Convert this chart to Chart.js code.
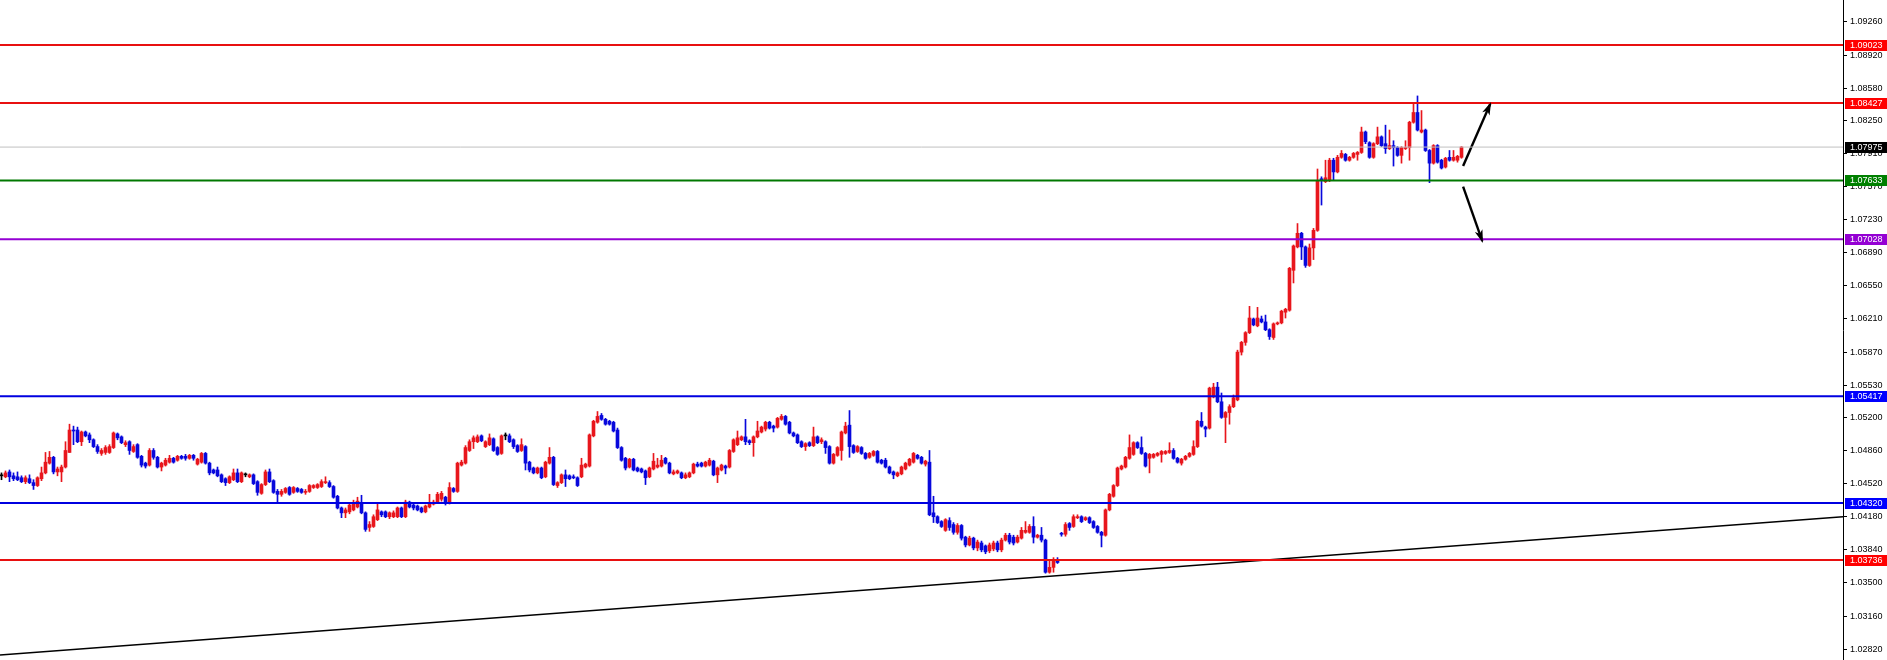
<!DOCTYPE html>
<html><head><meta charset="utf-8">
<script src="https://cdn.jsdelivr.net/npm/chart.js@4/dist/chart.umd.min.js"></script>
<style>html,body{margin:0;padding:0;background:#fff;overflow:hidden}#wrap{width:1887px;height:660px;position:relative}</style>
</head><body><div id="wrap"><canvas id="c"></canvas></div>
<script>
const OPEN=[
1.0460,1.0459,1.0464,1.0460,1.0459,1.0458,1.0454,1.0457,1.0453,1.0450,
1.0457,1.0463,1.0473,1.0479,1.0464,1.0464,1.0469,1.0484,1.0507,1.0507,
1.0495,1.0505,1.0502,1.0497,1.0490,1.0483,1.0484,1.0484,1.0489,1.0503,
1.0500,1.0492,1.0495,1.0485,1.0492,1.0480,1.0473,1.0471,1.0486,1.0479,
1.0469,1.0471,1.0474,1.0478,1.0476,1.0480,1.0480,1.0478,1.0481,1.0472,
1.0474,1.0483,1.0473,1.0466,1.0466,1.0461,1.0457,1.0453,1.0456,1.0463,
1.0454,1.0461,1.0459,1.0461,1.0454,1.0442,1.0451,1.0464,1.0455,1.0444,
1.0441,1.0443,1.0448,1.0443,1.0447,1.0446,1.0443,1.0444,1.0448,1.0448,
1.0449,1.0453,1.0453,1.0449,1.0439,1.0427,1.0422,1.0423,1.0425,1.0428,
1.0431,1.0422,1.0407,1.0408,1.0415,1.0423,1.0423,1.0418,1.0418,1.0418,
1.0427,1.0418,1.0433,1.0430,1.0429,1.0427,1.0423,1.0428,1.0431,1.0433,
1.0436,1.0438,1.0432,1.0447,1.0444,1.0471,1.0473,1.0486,1.0495,1.0495,
1.0501,1.0490,1.0492,1.0498,1.0489,1.0483,1.0501,1.0501,1.0497,1.0491,
1.0486,1.0490,1.0474,1.0468,1.0463,1.0468,1.0459,1.0473,1.0479,1.0450,
1.0453,1.0461,1.0460,1.0459,1.0458,1.0459,1.0469,1.0470,1.0501,1.0515,
1.0522,1.0518,1.0516,1.0515,1.0507,1.0489,1.0478,1.0469,1.0477,1.0468,
1.0467,1.0465,1.0459,1.0467,1.0469,1.0470,1.0478,1.0473,1.0462,1.0463,
1.0463,1.0458,1.0459,1.0463,1.0472,1.0473,1.0470,1.0471,1.0475,1.0461,
1.0466,1.0470,1.0469,1.0485,1.0492,1.0497,1.0500,1.0496,1.0494,1.0500,
1.0505,1.0508,1.0515,1.0511,1.0510,1.0518,1.0521,1.0515,1.0504,1.0502,
1.0495,1.0490,1.0494,1.0491,1.0500,1.0495,1.0495,1.0490,1.0473,1.0481,
1.0486,1.0504,1.0512,1.0491,1.0485,1.0489,1.0483,1.0479,1.0481,1.0485,
1.0476,1.0476,1.0469,1.0464,1.0460,1.0462,1.0467,1.0471,1.0474,1.0481,
1.0479,1.0472,1.0474,1.0422,1.0418,1.0413,1.0404,1.0414,1.0410,1.0402,
1.0409,1.0397,1.0389,1.0396,1.0386,1.0391,1.0388,1.0383,1.0385,1.0391,
1.0384,1.0394,1.0399,1.0397,1.0392,1.0396,1.0402,1.0402,1.0408,1.0397,
1.0399,1.0394,1.0361,1.0366,1.0374,1.0401,1.0400,1.0411,1.0408,1.0417,
1.0418,1.0415,1.0417,1.0413,1.0408,1.0402,1.0399,1.0425,1.0439,1.0450,
1.0467,1.0469,1.0478,1.0482,1.0494,1.0489,1.0483,1.0478,1.0479,1.0481,
1.0482,1.0483,1.0484,1.0486,1.0478,1.0473,1.0477,1.0480,1.0482,1.0490,
1.0516,1.0510,1.0509,1.0541,1.0551,1.0536,1.0520,1.0525,1.0531,1.0538,
1.0587,1.0597,1.0607,1.0621,1.0614,1.0621,1.0618,1.0610,1.0602,1.0616,
1.0617,1.0628,1.0630,1.0671,1.0695,1.0709,1.0695,1.0676,1.0694,1.0712,
1.0765,1.0762,1.0763,1.0784,1.0772,1.0787,1.0790,1.0784,1.0787,1.0790,
1.0792,1.0813,1.0802,1.0787,1.0801,1.0808,1.0801,1.0796,1.0799,1.0797,
1.0789,1.0796,1.0797,1.0823,1.0833,1.0813,1.0815,1.0794,1.0781,1.0799,
1.0784,1.0777,1.0787,1.0784,1.0784,1.0787];
const HIGH=[
1.0463,1.0465,1.0466,1.0463,1.0464,1.0460,1.0460,1.0461,1.0456,1.0459,
1.0469,1.0484,1.0485,1.0480,1.0469,1.0471,1.0495,1.0513,1.0511,1.0510,
1.0506,1.0506,1.0504,1.0498,1.0492,1.0488,1.0491,1.0492,1.0505,1.0504,
1.0501,1.0496,1.0496,1.0492,1.0493,1.0481,1.0474,1.0488,1.0488,1.0480,
1.0474,1.0478,1.0481,1.0479,1.0481,1.0481,1.0482,1.0482,1.0482,1.0478,
1.0484,1.0484,1.0474,1.0467,1.0469,1.0462,1.0458,1.0460,1.0467,1.0467,
1.0464,1.0463,1.0462,1.0462,1.0455,1.0452,1.0466,1.0467,1.0456,1.0446,
1.0446,1.0448,1.0449,1.0449,1.0448,1.0447,1.0446,1.0451,1.0451,1.0452,
1.0456,1.0459,1.0455,1.0450,1.0440,1.0428,1.0427,1.0431,1.0435,1.0438,
1.0440,1.0423,1.0413,1.0420,1.0431,1.0424,1.0424,1.0423,1.0424,1.0428,
1.0428,1.0435,1.0434,1.0431,1.0430,1.0428,1.0430,1.0441,1.0435,1.0443,
1.0444,1.0439,1.0453,1.0448,1.0474,1.0476,1.0491,1.0497,1.0501,1.0502,
1.0502,1.0496,1.0503,1.0499,1.0490,1.0502,1.0504,1.0503,1.0498,1.0492,
1.0498,1.0491,1.0475,1.0469,1.0469,1.0469,1.0475,1.0489,1.0480,1.0454,
1.0462,1.0466,1.0461,1.0461,1.0459,1.0478,1.0473,1.0503,1.0517,1.0526,
1.0524,1.0519,1.0517,1.0516,1.0509,1.0490,1.0479,1.0478,1.0478,1.0469,
1.0468,1.0466,1.0469,1.0483,1.0478,1.0481,1.0479,1.0474,1.0466,1.0466,
1.0464,1.0463,1.0464,1.0473,1.0474,1.0474,1.0475,1.0478,1.0476,1.0469,
1.0472,1.0471,1.0487,1.0498,1.0506,1.0501,1.0518,1.0497,1.0501,1.0516,
1.0511,1.0516,1.0516,1.0512,1.0520,1.0523,1.0522,1.0516,1.0505,1.0503,
1.0496,1.0494,1.0495,1.0510,1.0501,1.0499,1.0496,1.0491,1.0483,1.0490,
1.0506,1.0515,1.0527,1.0492,1.0491,1.0490,1.0484,1.0484,1.0486,1.0486,
1.0477,1.0478,1.0470,1.0465,1.0464,1.0470,1.0474,1.0478,1.0484,1.0482,
1.0480,1.0476,1.0486,1.0439,1.0419,1.0414,1.0416,1.0417,1.0412,1.0411,
1.0410,1.0398,1.0398,1.0397,1.0394,1.0393,1.0389,1.0391,1.0393,1.0393,
1.0396,1.0401,1.0401,1.0399,1.0399,1.0407,1.0413,1.0410,1.0418,1.0400,
1.0407,1.0395,1.0374,1.0376,1.0376,1.0402,1.0412,1.0412,1.0420,1.0420,
1.0419,1.0418,1.0418,1.0414,1.0409,1.0403,1.0426,1.0442,1.0451,1.0469,
1.0471,1.0480,1.0502,1.0495,1.0495,1.0500,1.0484,1.0483,1.0483,1.0484,
1.0486,1.0486,1.0494,1.0488,1.0479,1.0478,1.0481,1.0484,1.0496,1.0517,
1.0525,1.0511,1.0551,1.0555,1.0556,1.0545,1.0526,1.0533,1.0543,1.0589,
1.0598,1.0608,1.0634,1.0622,1.0633,1.0624,1.0625,1.0611,1.0617,1.0618,
1.0630,1.0632,1.0674,1.0697,1.0719,1.0710,1.0696,1.0698,1.0714,1.0775,
1.0767,1.0784,1.0786,1.0786,1.0789,1.0794,1.0791,1.0788,1.0792,1.0793,
1.0818,1.0814,1.0803,1.0802,1.0818,1.0809,1.0820,1.0815,1.0804,1.0798,
1.0798,1.0804,1.0824,1.0842,1.0850,1.0835,1.0816,1.0795,1.0800,1.0800,
1.0785,1.0787,1.0794,1.0794,1.0789,1.0798];
const LOW=[
1.0456,1.0458,1.0454,1.0455,1.0455,1.0453,1.0452,1.0452,1.0446,1.0449,
1.0455,1.0462,1.0472,1.0462,1.0460,1.0454,1.0468,1.0484,1.0492,1.0494,
1.0491,1.0500,1.0494,1.0489,1.0483,1.0481,1.0482,1.0483,1.0488,1.0497,
1.0493,1.0490,1.0482,1.0484,1.0478,1.0469,1.0468,1.0470,1.0477,1.0468,
1.0465,1.0470,1.0473,1.0473,1.0475,1.0477,1.0476,1.0477,1.0476,1.0471,
1.0473,1.0472,1.0461,1.0462,1.0459,1.0453,1.0450,1.0452,1.0455,1.0453,
1.0453,1.0459,1.0458,1.0451,1.0440,1.0441,1.0450,1.0453,1.0442,1.0432,
1.0439,1.0442,1.0440,1.0442,1.0443,1.0442,1.0441,1.0443,1.0447,1.0447,
1.0448,1.0452,1.0448,1.0437,1.0426,1.0417,1.0417,1.0421,1.0424,1.0427,
1.0421,1.0403,1.0403,1.0407,1.0414,1.0418,1.0417,1.0416,1.0417,1.0417,
1.0417,1.0417,1.0427,1.0425,1.0424,1.0422,1.0422,1.0427,1.0430,1.0432,
1.0434,1.0430,1.0431,1.0443,1.0443,1.0470,1.0472,1.0485,1.0488,1.0494,
1.0495,1.0489,1.0491,1.0485,1.0481,1.0482,1.0497,1.0494,1.0488,1.0484,
1.0485,1.0466,1.0464,1.0462,1.0462,1.0457,1.0458,1.0472,1.0450,1.0448,
1.0452,1.0449,1.0456,1.0457,1.0449,1.0458,1.0468,1.0469,1.0500,1.0514,
1.0517,1.0512,1.0512,1.0505,1.0488,1.0475,1.0466,1.0468,1.0465,1.0464,
1.0463,1.0451,1.0458,1.0466,1.0468,1.0469,1.0472,1.0462,1.0461,1.0462,
1.0457,1.0457,1.0458,1.0462,1.0469,1.0469,1.0469,1.0470,1.0460,1.0453,
1.0465,1.0462,1.0468,1.0484,1.0491,1.0496,1.0492,1.0492,1.0480,1.0499,
1.0504,1.0506,1.0508,1.0505,1.0509,1.0517,1.0512,1.0503,1.0500,1.0493,
1.0489,1.0486,1.0490,1.0490,1.0493,1.0493,1.0483,1.0472,1.0472,1.0480,
1.0476,1.0503,1.0479,1.0483,1.0484,1.0482,1.0477,1.0478,1.0480,1.0473,
1.0472,1.0468,1.0462,1.0457,1.0459,1.0461,1.0466,1.0470,1.0473,1.0477,
1.0472,1.0470,1.0419,1.0412,1.0411,1.0407,1.0403,1.0404,1.0400,1.0400,
1.0394,1.0387,1.0388,1.0384,1.0383,1.0382,1.0380,1.0381,1.0383,1.0382,
1.0382,1.0393,1.0390,1.0389,1.0391,1.0395,1.0401,1.0401,1.0391,1.0396,
1.0392,1.0360,1.0360,1.0361,1.0370,1.0398,1.0398,1.0404,1.0407,1.0416,
1.0412,1.0414,1.0411,1.0406,1.0401,1.0387,1.0398,1.0424,1.0438,1.0449,
1.0466,1.0468,1.0477,1.0481,1.0488,1.0482,1.0469,1.0463,1.0478,1.0480,
1.0474,1.0482,1.0483,1.0477,1.0473,1.0471,1.0476,1.0479,1.0481,1.0489,
1.0510,1.0500,1.0508,1.0540,1.0535,1.0519,1.0494,1.0513,1.0530,1.0537,
1.0584,1.0594,1.0606,1.0614,1.0613,1.0617,1.0609,1.0600,1.0600,1.0615,
1.0616,1.0622,1.0629,1.0658,1.0694,1.0682,1.0674,1.0675,1.0682,1.0711,
1.0738,1.0761,1.0762,1.0764,1.0771,1.0786,1.0783,1.0783,1.0786,1.0784,
1.0791,1.0801,1.0786,1.0786,1.0800,1.0798,1.0791,1.0795,1.0778,1.0788,
1.0781,1.0795,1.0784,1.0822,1.0814,1.0812,1.0793,1.0761,1.0780,1.0781,
1.0775,1.0776,1.0783,1.0783,1.0782,1.0786];
const CLOSE=[
1.0460,1.0463,1.0459,1.0457,1.0456,1.0454,1.0458,1.0453,1.0450,1.0458,
1.0463,1.0474,1.0479,1.0464,1.0467,1.0469,1.0486,1.0507,1.0506,1.0495,
1.0505,1.0501,1.0497,1.0490,1.0485,1.0486,1.0489,1.0490,1.0504,1.0499,
1.0494,1.0494,1.0486,1.0490,1.0479,1.0471,1.0470,1.0486,1.0479,1.0469,
1.0473,1.0476,1.0478,1.0474,1.0480,1.0478,1.0478,1.0481,1.0478,1.0477,
1.0483,1.0473,1.0463,1.0463,1.0460,1.0454,1.0453,1.0459,1.0463,1.0454,
1.0463,1.0461,1.0461,1.0452,1.0443,1.0451,1.0464,1.0454,1.0443,1.0441,
1.0444,1.0447,1.0441,1.0448,1.0444,1.0443,1.0444,1.0450,1.0450,1.0451,
1.0454,1.0454,1.0449,1.0438,1.0427,1.0422,1.0425,1.0430,1.0432,1.0434,
1.0422,1.0405,1.0410,1.0418,1.0425,1.0420,1.0418,1.0422,1.0422,1.0427,
1.0418,1.0433,1.0428,1.0427,1.0425,1.0423,1.0429,1.0432,1.0433,1.0441,
1.0442,1.0432,1.0448,1.0444,1.0473,1.0474,1.0489,1.0495,1.0499,1.0500,
1.0496,1.0495,1.0499,1.0486,1.0482,1.0501,1.0501,1.0495,1.0490,1.0485,
1.0492,1.0473,1.0466,1.0463,1.0468,1.0458,1.0474,1.0479,1.0451,1.0453,
1.0461,1.0457,1.0457,1.0458,1.0450,1.0471,1.0472,1.0502,1.0516,1.0521,
1.0518,1.0513,1.0513,1.0506,1.0489,1.0476,1.0468,1.0477,1.0466,1.0465,
1.0464,1.0458,1.0468,1.0475,1.0471,1.0476,1.0473,1.0463,1.0464,1.0465,
1.0458,1.0461,1.0463,1.0472,1.0470,1.0470,1.0474,1.0476,1.0461,1.0468,
1.0471,1.0468,1.0486,1.0497,1.0499,1.0500,1.0495,1.0494,1.0500,1.0506,
1.0510,1.0515,1.0509,1.0509,1.0519,1.0521,1.0513,1.0504,1.0501,1.0494,
1.0490,1.0493,1.0491,1.0500,1.0494,1.0497,1.0489,1.0473,1.0482,1.0489,
1.0505,1.0511,1.0490,1.0484,1.0490,1.0483,1.0478,1.0483,1.0485,1.0474,
1.0473,1.0469,1.0463,1.0461,1.0463,1.0469,1.0473,1.0477,1.0483,1.0478,
1.0473,1.0475,1.0420,1.0418,1.0412,1.0408,1.0415,1.0407,1.0402,1.0409,
1.0396,1.0389,1.0396,1.0386,1.0392,1.0384,1.0382,1.0389,1.0391,1.0384,
1.0394,1.0399,1.0392,1.0391,1.0397,1.0404,1.0404,1.0408,1.0397,1.0399,
1.0394,1.0361,1.0366,1.0374,1.0371,1.0400,1.0410,1.0407,1.0418,1.0418,
1.0413,1.0417,1.0412,1.0407,1.0402,1.0399,1.0425,1.0441,1.0450,1.0468,
1.0470,1.0479,1.0489,1.0494,1.0489,1.0483,1.0470,1.0482,1.0482,1.0483,
1.0485,1.0485,1.0486,1.0478,1.0474,1.0477,1.0480,1.0483,1.0490,1.0516,
1.0511,1.0508,1.0550,1.0551,1.0536,1.0520,1.0525,1.0531,1.0540,1.0587,
1.0597,1.0607,1.0622,1.0615,1.0622,1.0618,1.0610,1.0603,1.0616,1.0617,
1.0629,1.0631,1.0673,1.0696,1.0709,1.0695,1.0676,1.0694,1.0712,1.0763,
1.0763,1.0766,1.0784,1.0772,1.0787,1.0791,1.0784,1.0787,1.0791,1.0792,
1.0813,1.0803,1.0787,1.0801,1.0808,1.0799,1.0796,1.0799,1.0797,1.0789,
1.0797,1.0797,1.0823,1.0833,1.0815,1.0815,1.0794,1.0781,1.0799,1.0782,
1.0776,1.0786,1.0784,1.0787,1.0788,1.07975];

const TICKS=[1.09260,1.08920,1.08580,1.08250,1.07910,1.07570,1.07230,1.06890,1.06550,1.06210,
1.05870,1.05530,1.05200,1.04860,1.04520,1.04180,1.03840,1.03500,1.03160,1.02820];
const LEVELS=[1.09023,1.08427,1.07975,1.07633,1.07028,1.05417,1.04320,1.03736];
const TREND=[{x:-0.375,y:1.0276},{x:460.375,y:1.0418}];
const ARROW_UP=[{x:365.4,y:1.0778},{x:372.2,y:1.0842}];
const ARROW_DOWN=[{x:365.4,y:1.0757},{x:370.2,y:1.0701}];

const X_MIN=-0.375, X_MAX=460.375, Y_MIN=1.02709, Y_MAX=1.09485;
const LEVEL_STYLE=[
 {line:'#e81010',box:'#ff0000',w:2},
 {line:'#e81010',box:'#ff0000',w:2},
 {line:'#c0c0c0',box:'#000000',w:1},
 {line:'#007800',box:'#008000',w:2},
 {line:'#9400d3',box:'#9400d3',w:2},
 {line:'#0000e0',box:'#0000ff',w:2},
 {line:'#0000e0',box:'#0000ff',w:2},
 {line:'#e81010',box:'#ff0000',w:2}
];
const UP='#e8161c', DOWN='#0808dc', DOJI='#000000';
const FONT='"Liberation Sans", Arial, sans-serif';

const idx=OPEN.map((_,i)=>i);
const candleColor=i=>CLOSE[i]>OPEN[i]?UP:(CLOSE[i]<OPEN[i]?DOWN:DOJI);

const datasets=[];
LEVELS.forEach((v,k)=>{
  datasets.push({type:'line',data:[{x:X_MIN,y:v},{x:X_MAX,y:v}],borderColor:LEVEL_STYLE[k].line,
    borderWidth:LEVEL_STYLE[k].w,pointRadius:0,fill:false,tension:0,order:0});
});
datasets.push({type:'line',data:TREND,borderColor:'#000',borderWidth:1.6,pointRadius:0,fill:false,order:0});
datasets.push({type:'line',id:'arrow',data:ARROW_UP,borderColor:'#000',borderWidth:2.4,pointRadius:0,fill:false,order:0,isArrow:true});
datasets.push({type:'line',id:'arrow',data:ARROW_DOWN,borderColor:'#000',borderWidth:2.4,pointRadius:0,fill:false,order:0,isArrow:true});
datasets.push({type:'bar',data:idx.map(i=>({x:i,y:[OPEN[i],CLOSE[i]]})),
  backgroundColor:idx.map(candleColor),barThickness:3,grouped:false,minBarLength:1,borderWidth:0,order:1});
datasets.push({type:'bar',data:idx.map(i=>({x:i,y:[LOW[i],HIGH[i]]})),
  backgroundColor:idx.map(candleColor),barThickness:1,grouped:false,minBarLength:1,borderWidth:0,order:2});

const arrowHeads={id:'arrowHeads',afterDatasetsDraw(chart){
  const ctx=chart.ctx;
  chart.data.datasets.forEach((ds,di)=>{
    if(!ds.isArrow)return;
    const pts=chart.getDatasetMeta(di).data;
    const a=pts[0],b=pts[1];
    const ang=Math.atan2(b.y-a.y,b.x-a.x);
    const L=11,W=4;
    ctx.save();ctx.fillStyle='#000';ctx.beginPath();
    ctx.moveTo(b.x+Math.cos(ang)*2,b.y+Math.sin(ang)*2);
    ctx.lineTo(b.x-Math.cos(ang)*L+Math.sin(ang)*W,b.y-Math.sin(ang)*L-Math.cos(ang)*W);
    ctx.lineTo(b.x-Math.cos(ang)*L*0.7,b.y-Math.sin(ang)*L*0.7);
    ctx.lineTo(b.x-Math.cos(ang)*L-Math.sin(ang)*W,b.y-Math.sin(ang)*L+Math.cos(ang)*W);
    ctx.closePath();ctx.fill();ctx.restore();
  });
}};
const priceBoxes={id:'priceBoxes',afterDraw(chart){
  const ctx=chart.ctx,y=chart.scales.y,x0=chart.chartArea.right+2;
  ctx.save();
  LEVELS.forEach((v,k)=>{
    const py=Math.round(y.getPixelForValue(v));
    ctx.fillStyle=LEVEL_STYLE[k].box;
    ctx.fillRect(x0,py-5,chart.width-x0,11);
    ctx.fillStyle='#fff';ctx.font='9px '+FONT;ctx.textBaseline='middle';ctx.textAlign='left';
    ctx.fillText(v.toFixed(5),x0+5,py+0.5);
  });
  ctx.restore();
}};

new Chart(document.getElementById('c'),{
  type:'bar',
  data:{datasets},
  options:{
    responsive:true,maintainAspectRatio:false,devicePixelRatio:1,animation:false,
    layout:{padding:0},
    plugins:{legend:{display:false},tooltip:{enabled:false}},
    events:[],
    scales:{
      x:{type:'linear',min:X_MIN,max:X_MAX,display:false,offset:false,grid:{offset:false}},
      y:{type:'linear',position:'right',min:Y_MIN,max:Y_MAX,beginAtZero:false,
        afterBuildTicks:s=>{s.ticks=TICKS.map(v=>({value:v}));},
        afterFit:s=>{s.width=44;s.paddingTop=0;s.paddingBottom=0;},
        ticks:{autoSkip:false,color:'#000',font:{family:FONT,size:9},padding:3,callback:v=>Number(v).toFixed(5)},
        grid:{drawOnChartArea:false,drawTicks:true,tickLength:4,color:'#000',tickColor:'#000'},
        border:{display:true,color:'#000',width:1}}
    }
  },
  plugins:[arrowHeads,priceBoxes]
});
</script></body></html>
